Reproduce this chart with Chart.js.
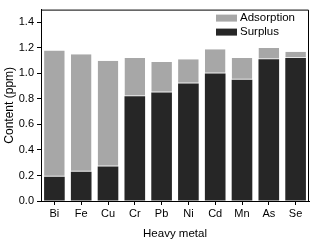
<!DOCTYPE html>
<html>
<head>
<meta charset="utf-8">
<script src="https://cdn.jsdelivr.net/npm/chart.js@4/dist/chart.umd.min.js"></script>
<style>
  html, body { margin: 0; padding: 0; background: #fff; }
  #wrap { width: 313px; height: 241px; }
</style>
</head>
<body>
<div id="wrap"><canvas id="grafica"></canvas></div>
<script>
/* datos */
const metales    = ['Bi','Fe','Cu','Cr','Pb','Ni','Cd','Mn','As','Se'];
const surplus    = [0.19, 0.23, 0.27, 0.82, 0.85, 0.92, 1.00, 0.95, 1.11, 1.12];
const adsorption = [0.99, 0.92, 0.83, 0.30, 0.24, 0.19, 0.19, 0.17, 0.09, 0.05];
const yTicks     = [0, 0.2, 0.4, 0.6, 0.8, 1.0, 1.2, 1.4];

const FONT = 'Liberation Sans, Arial, sans-serif';

// marco superior/derecho + leyenda dentro del área
const marcoLeyenda = {
  id: 'marcoLeyenda',
  afterDraw(chart) {
    const { ctx, chartArea: a } = chart;
    ctx.save();
    ctx.strokeStyle = '#000';
    ctx.lineWidth = 1;
    ctx.beginPath();
    ctx.moveTo(a.left, a.top + 0.5);
    ctx.lineTo(a.right - 0.5, a.top + 0.5);
    ctx.lineTo(a.right - 0.5, a.bottom);
    ctx.stroke();

    const items = chart.data.datasets.slice().reverse();
    ctx.font = '11.5px ' + FONT;
    ctx.textBaseline = 'middle';
    items.forEach((ds, i) => {
      const y = a.top + 5 + i * 14;
      ctx.fillStyle = ds.backgroundColor;
      ctx.fillRect(216, y, 21, 7);
      ctx.fillStyle = '#000';
      ctx.fillText(ds.label, 240, y + 3.5);
    });
    ctx.restore();
  }
};

new Chart(document.getElementById('grafica'), {
  type: 'bar',
  data: {
    labels: metales,
    datasets: [
      {
        label: 'Surplus',
        data: surplus,
        backgroundColor: '#262626',
        borderWidth: 0,
      },
      {
        label: 'Adsorption',
        data: adsorption,
        backgroundColor: '#a7a7a7',
        borderColor: '#e6e6e6',
        borderWidth: { bottom: 1, top: 0, left: 0, right: 0 },
        borderSkipped: false,
      }
    ]
  },
  options: {
    responsive: true,
    maintainAspectRatio: false,
    animation: false,
    layout: { padding: { top: 3, right: 4, left: 0, bottom: 0 } },
    datasets: { bar: { categoryPercentage: 1, barPercentage: 0.77 } },
    plugins: { legend: { display: false }, tooltip: { enabled: false } },
    scales: {
      x: {
        stacked: true,
        grid: { offset: false, drawOnChartArea: false, tickLength: 4, color: '#000' },
        border: { color: '#000', width: 1 },
        ticks: { color: '#000', padding: 2, font: { family: FONT, size: 11 } },
        title: { display: true, text: 'Heavy metal', color: '#000', padding: { top: 2, bottom: 0 },
                 font: { family: FONT, size: 11.5 } },
        afterFit: s => { s.height = 40; }
      },
      y: {
        stacked: true,
        min: 0,
        max: 1.5,
        afterBuildTicks: s => { s.ticks = yTicks.map(v => ({ value: v })); },
        grid: { drawOnChartArea: false, tickLength: 4, color: '#000' },
        border: { color: '#000', width: 1 },
        ticks: { color: '#000', padding: 3, font: { family: FONT, size: 11 },
                 callback: v => Number(v).toFixed(1) },
        title: { display: true, text: 'Content (ppm)', color: '#000', padding: { top: 2, bottom: 0 },
                 font: { family: FONT, size: 12 } },
        afterFit: s => { s.width = 41; }
      }
    }
  },
  plugins: [marcoLeyenda]
});
</script>
</body>
</html>
